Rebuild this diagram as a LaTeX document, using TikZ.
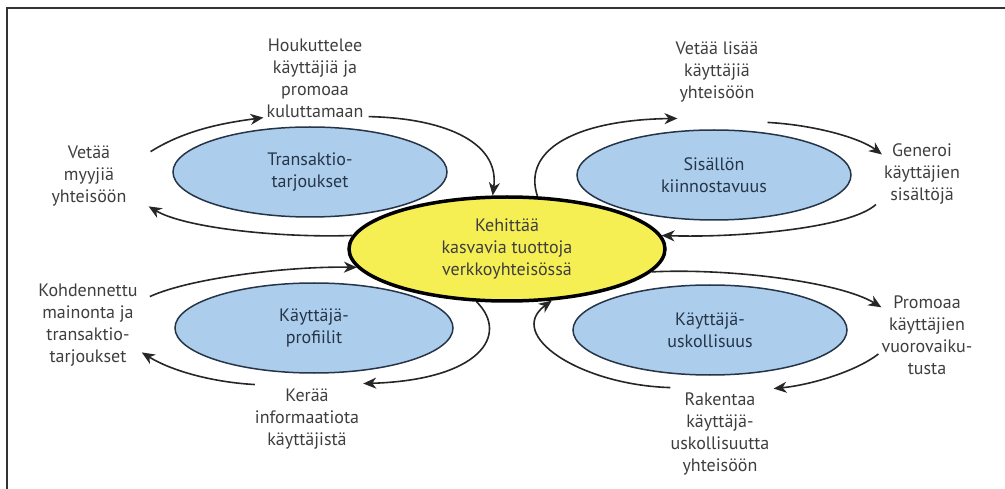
\documentclass[tikz,border=0pt]{standalone}
\usepackage{fontspec}
\setmainfont{PT Sans}
\usepackage{tikz}
\usetikzlibrary{shapes.geometric,arrows.meta,positioning}

\definecolor{factorblue}{RGB}{172,206,236}
\definecolor{factorline}{RGB}{38,52,72}
\definecolor{goalyellow}{RGB}{246,239,84}
\definecolor{textgray}{RGB}{62,62,62}

\newcommand{\labelfont}{\fontsize{18}{22}\selectfont}

\tikzstyle{goal} = [ellipse, minimum width=316pt, minimum height=104pt, inner sep=0pt, align=center, draw=black, line width=3.5pt, fill=goalyellow, text=textgray, font=\labelfont]
\tikzstyle{factor} = [ellipse, minimum width=274pt, minimum height=90pt, inner sep=0pt, align=center, draw=factorline, line width=1.5pt, fill=factorblue, text=factorline, font=\labelfont]
\tikzstyle{effect} = [align=center, inner sep=0pt, text=textgray, font=\labelfont]
\tikzstyle{arrow} = [line width=1.6pt, draw=black!85, -{Stealth[length=13pt,width=11pt,inset=4pt]}]

\begin{document}
\begin{tikzpicture}[x=1pt,y=-1pt]
        \useasboundingbox (0,0) rectangle (1005,489);
        % Frame
        \draw [line width=1.5pt, black!80] (7,489) -- (7,8) -- (1005,8);

        % Goal in the middle
        \node (goal) [goal] at (507,249) {Kehittää\\kasvavia tuottoja\\verkkoyhteisössä};

        % Four factors
        \node (trans) [factor] at (310,172) {Transaktio-\\tarjoukset};
        \node (sis) [factor] at (714,175) {Sisällön\\kiinnostavuus};
        \node (prof) [factor, minimum width=278pt] at (314,328) {Käyttäjä-\\profiilit};
        \node (usk) [factor] at (710,330) {Käyttäjä-\\uskollisuus};

        % Effects round the factors
        \node (houk) [effect] at (315,78) {Houkuttelee\\käyttäjiä ja\\promoaa\\kuluttamaan};
        \node (myyjat) [effect] at (89,176) {Vetää\\myyjiä\\yhteisöön};
        \node (lisaa) [effect] at (717,72) {Vetää lisää\\käyttäjiä\\yhteisöön};
        \node (generoi) [effect] at (922,174) {Generoi\\käyttäjien\\sisältöjä};
        \node (kohd) [effect] at (88,325) {Kohdennettu\\mainonta ja\\transaktio-\\tarjoukset};
        \node (keraa) [effect] at (307,419) {Kerää\\informaatiota\\käyttäjistä};
        \node (promoaa) [effect] at (927,335) {Promoaa\\käyttäjien\\vuorovaiku-\\tusta};
        \node (rakentaa) [effect] at (720,434) {Rakentaa\\käyttäjä-\\uskollisuutta\\yhteisöön};

        % Loop round Transaktiotarjoukset
        \draw [arrow] ([xshift=24pt,yshift=-6pt]myyjat.north east) .. controls (185,130) and (223,123) .. ([xshift=-3pt]houk.south west);
        \draw [arrow] ([xshift=5pt,yshift=1pt]houk.south east) .. controls (440,118) and (500,140) .. (goal.105);
        \draw [arrow] (goal.175) .. controls (280,238) and (185,228) .. ([xshift=22pt]myyjat.south east);

        % Loop round Sisällön kiinnostavuus
        \draw [arrow] (goal.60) .. controls (522,150) and (575,120) .. ([xshift=2pt,yshift=-16pt]lisaa.south west);
        \draw [arrow] ([xshift=9pt,yshift=-20pt]lisaa.south east) .. controls (815,125) and (860,138) .. ([xshift=-2pt,yshift=-11pt]generoi.north west);
        \draw [arrow] ([xshift=-8pt]generoi.south west) .. controls (850,228) and (740,238) .. (goal.5);

        % Loop round Käyttäjäprofiilit
        \draw [arrow] ([xshift=12pt,yshift=-13pt]kohd.north east) .. controls (190,278) and (290,266) .. (goal.187);
        \draw [arrow] (goal.240) .. controls (510,335) and (480,380) .. ([xshift=4pt,yshift=5pt]keraa.north east);
        \draw [arrow] ([yshift=4pt]keraa.north west) .. controls (210,382) and (170,370) .. ([xshift=4pt,yshift=14pt]kohd.south east);

        % Loop round Käyttäjäuskollisuus
        \draw [arrow] (goal.351) .. controls (730,268) and (840,282) .. ([yshift=-12pt]promoaa.north west);
        \draw [arrow] ([xshift=-3pt,yshift=-19pt]promoaa.west) .. controls (855,372) and (810,385) .. ([xshift=4pt,yshift=4pt]rakentaa.north east);
        \draw [arrow] ([yshift=5pt]rakentaa.north west) .. controls (580,385) and (505,335) .. (goal.311);
    \end{tikzpicture}
\end{document}
